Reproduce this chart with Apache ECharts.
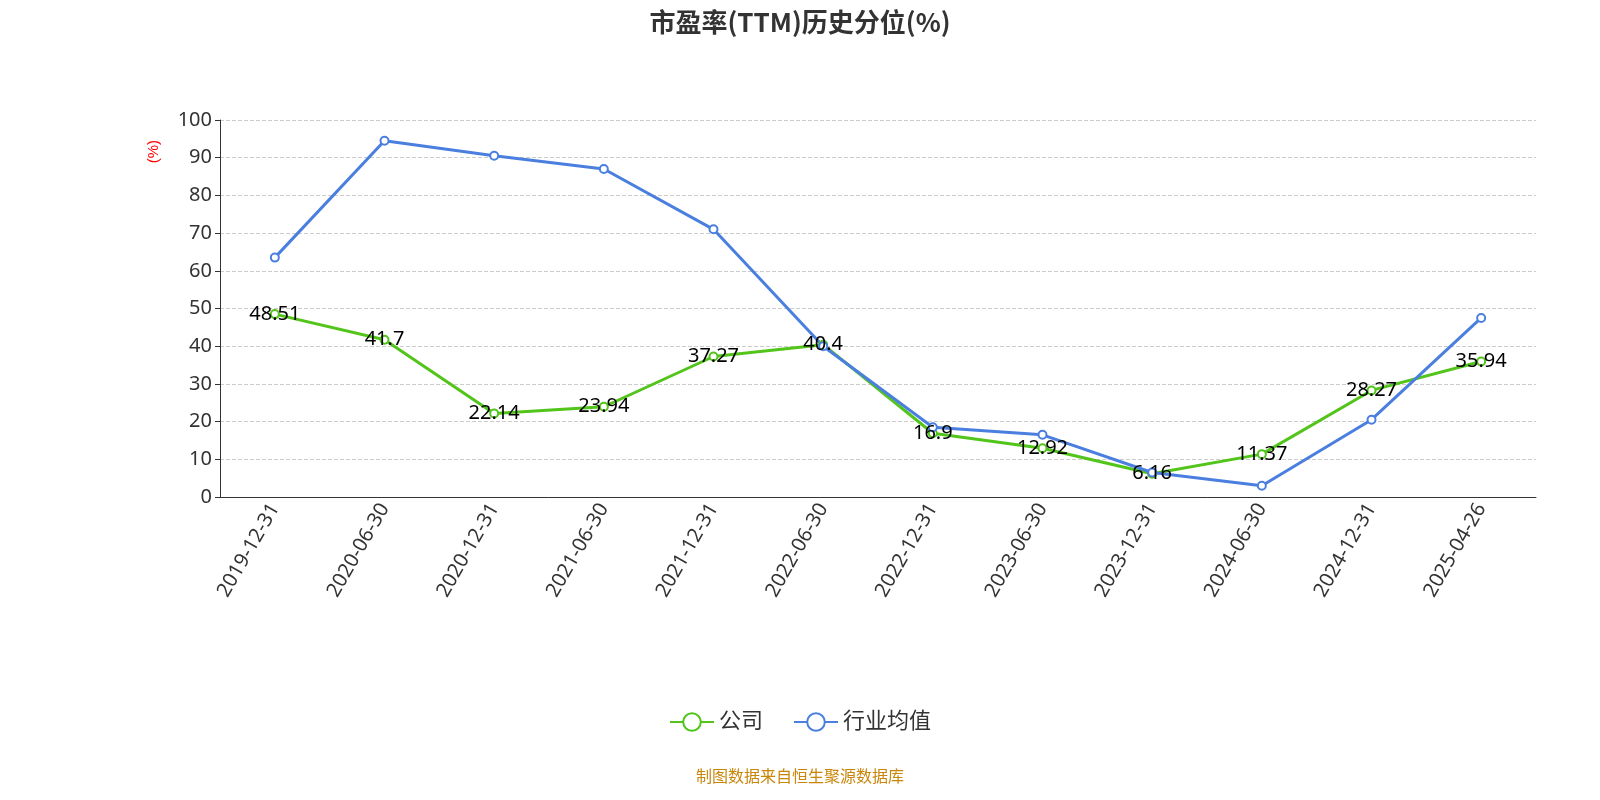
<!DOCTYPE html>
<html lang="zh">
<head>
<meta charset="UTF-8">
<title>市盈率(TTM)历史分位</title>
<script src="https://cdn.jsdelivr.net/npm/echarts/dist/echarts.min.js"></script>
</head>
<body style="margin:0">
<div id="main" style="width:1600px;height:800px;"></div>
<script>
var dates = ['2019-12-31','2020-06-30','2020-12-31','2021-06-30','2021-12-31','2022-06-30','2022-12-31','2023-06-30','2023-12-31','2024-06-30','2024-12-31','2025-04-26'];
var company = [48.51, 41.7, 22.14, 23.94, 37.27, 40.4, 16.9, 12.92, 6.16, 11.37, 28.27, 35.94];
var industry = [63.5, 94.5, 90.5, 87, 71, 40, 18.5, 16.5, 6.5, 3, 20.5, 47.5];

var chart = echarts.init(document.getElementById('main'));
chart.setOption({
    textStyle: { fontFamily: 'Noto Sans, Noto Sans CJK SC, sans-serif' },
    title: {
        text: '市盈率(TTM)历史分位(%)',
        left: 'center', top: 4,
        textStyle: { fontSize: 26, fontWeight: 'bold', color: '#333', fontFamily: 'Noto Sans CJK SC' }
    },
    grid: { left: 220, right: 64, top: 120, bottom: 303 },
    legend: {
        bottom: 62, itemWidth: 44, itemHeight: 22, itemGap: 30,
        textStyle: { fontSize: 22, color: '#333' },
        data: ['公司', '行业均值']
    },
    graphic: [
        { type: 'text', left: 'center', bottom: 16,
          style: { text: '制图数据来自恒生聚源数据库', fontSize: 16, fill: '#c8860a', fontFamily: 'Noto Sans CJK SC' } },
        { type: 'text', left: 146, top: 140, rotation: Math.PI / 2,
          style: { text: '(%)', fontSize: 15, fill: '#f00' } }
    ],
    xAxis: {
        type: 'category', data: dates, boundaryGap: true,
        axisLine: { lineStyle: { color: '#333' } },
        axisTick: { length: 6 },
        axisLabel: { rotate: 60, fontSize: 20, color: '#333', interval: 0 }
    },
    yAxis: {
        type: 'value', min: 0, max: 100, interval: 10,
        axisLine: { show: true, lineStyle: { color: '#333' } },
        axisTick: { show: true },
        axisLabel: { fontSize: 20, color: '#333' },
        splitLine: { lineStyle: { type: 'dashed', color: '#ccc' } }
    },
    series: [
        { name: '公司', type: 'line', data: company, symbol: 'emptyCircle', symbolSize: 8,
          lineStyle: { width: 3, color: '#52c41a' },
          itemStyle: { color: '#52c41a', borderWidth: 2 },
          label: { show: true, fontSize: 20, color: '#000', position: 'inside' } },
        { name: '行业均值', type: 'line', data: industry, symbol: 'emptyCircle', symbolSize: 8,
          lineStyle: { width: 3, color: '#4a7fe0' },
          itemStyle: { color: '#4a7fe0', borderWidth: 2 } }
    ]
});
</script>
</body>
</html>
